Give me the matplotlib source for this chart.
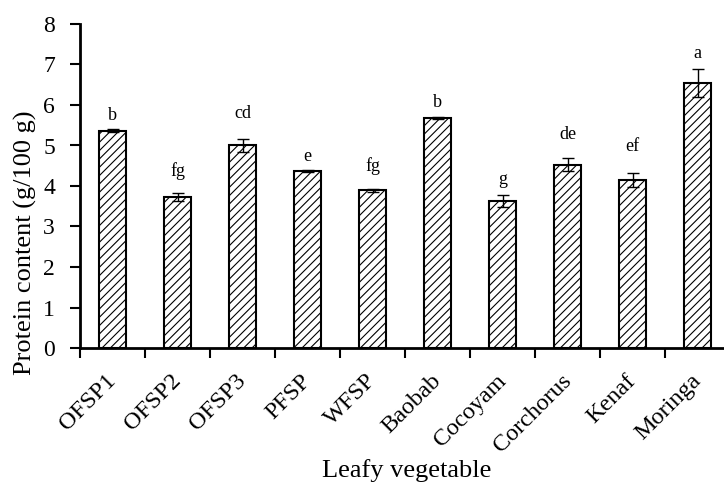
import matplotlib
matplotlib.use("Agg")
import matplotlib.pyplot as plt
from matplotlib.transforms import ScaledTranslation
import numpy as np

categories = ["OFSP1", "OFSP2", "OFSP3", "PFSP", "WFSP", "Baobab", "Cocoyam", "Corchorus", "Kenaf", "Moringa"]
protein = [5.37, 3.72, 5.00, 4.37, 3.89, 5.68, 3.64, 4.53, 4.14, 6.55]
errors = [0.03, 0.10, 0.16, 0.02, 0.04, 0.03, 0.15, 0.16, 0.17, 0.35]
letters = ["b", "fg", "cd", "e", "fg", "b", "g", "de", "ef", "a"]
letter_y = [5.75, 4.38, 5.78, 4.74, 4.49, 6.06, 4.17, 5.26, 4.97, 7.26]

plt.rcParams['font.family'] = ['Liberation Serif', 'DejaVu Serif']
plt.rcParams['hatch.linewidth'] = 0.8

fig = plt.figure(figsize=(7.24, 4.82), dpi=100)
ax = fig.add_axes([80/724, (482-348)/482, 650/724, 324/482])

x = np.arange(len(categories))
ax.bar(x, protein, width=0.43, color='white', edgecolor='black', linewidth=1.5,
       hatch='////', zorder=2)
ax.errorbar(x, protein, yerr=errors, fmt='none', ecolor='black', elinewidth=1.0,
            capsize=4, capthick=1.0, zorder=3)
for xi, lab, ly in zip(x, letters, letter_y):
    ax.text(xi, ly, lab, ha='center', va='center', fontsize=13)

ax.set_ylim(0, 8)
ax.set_xlim(-0.5, 9.5)
ax.set_yticks(range(0, 9))
ax.tick_params(axis='y', labelsize=17, width=1.5, length=7, pad=11, direction='out')
ax.set_xticks(x)
ax.set_xticklabels(categories, rotation=45, ha='right', va='top',
                   rotation_mode='anchor', fontsize=17.5)
ax.tick_params(axis='x', which='major', length=0, pad=16)
ax.set_xticks(np.arange(-0.5, 10, 1), minor=True)
ax.tick_params(axis='x', which='minor', length=7, width=1.5, direction='out')
offset = ScaledTranslation(-7/100, 0, fig.dpi_scale_trans)
for lbl in ax.get_xticklabels():
    lbl.set_transform(lbl.get_transform() + offset)

for s in ['top', 'right']:
    ax.spines[s].set_visible(False)
for s in ['left', 'bottom']:
    ax.spines[s].set_linewidth(2)

ax.set_ylabel("Protein content (g/100 g)", fontsize=19)
ax.yaxis.set_label_coords(-0.066, 0.324)
ax.set_xlabel("Leafy vegetable", fontsize=19)
ax.xaxis.set_label_coords(0.503, -0.342)

fig.savefig("out.png", dpi=100)
